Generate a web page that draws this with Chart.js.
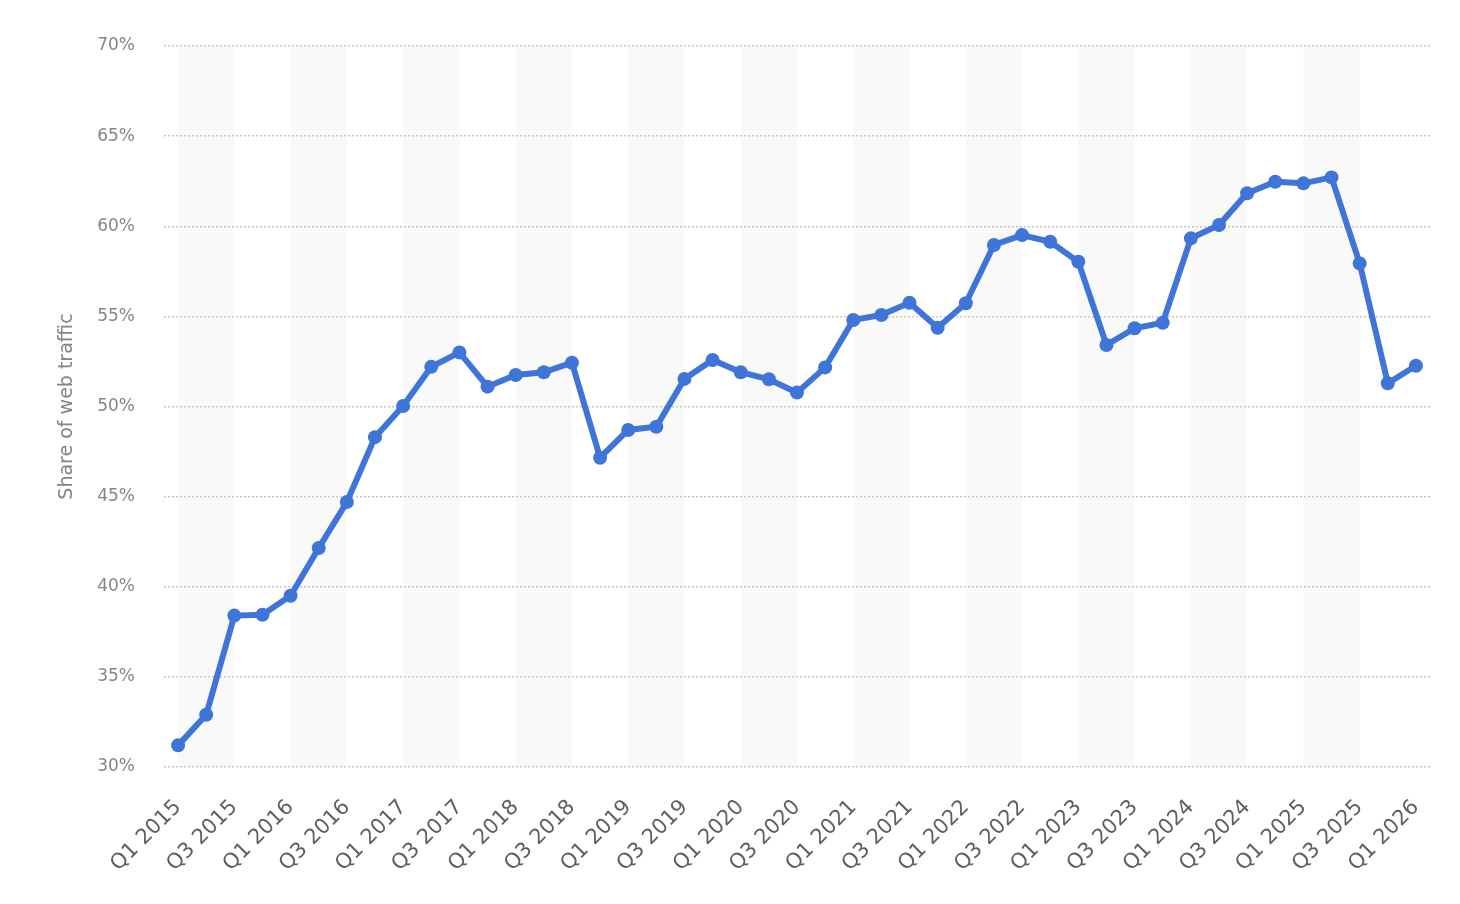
<!DOCTYPE html>
<html>
<head>
<meta charset="utf-8">
<script src="https://cdn.jsdelivr.net/npm/chart.js@4"></script>
<style>
  html, body { margin: 0; padding: 0; background: #fff; }
  #wrap { width: 1460px; height: 904px; }
</style>
</head>
<body>
<div id="wrap"><canvas id="chart"></canvas></div>
<script>
var quarters = [
  "Q1 2015","Q2 2015","Q3 2015","Q4 2015",
  "Q1 2016","Q2 2016","Q3 2016","Q4 2016",
  "Q1 2017","Q2 2017","Q3 2017","Q4 2017",
  "Q1 2018","Q2 2018","Q3 2018","Q4 2018",
  "Q1 2019","Q2 2019","Q3 2019","Q4 2019",
  "Q1 2020","Q2 2020","Q3 2020","Q4 2020",
  "Q1 2021","Q2 2021","Q3 2021","Q4 2021",
  "Q1 2022","Q2 2022","Q3 2022","Q4 2022",
  "Q1 2023","Q2 2023","Q3 2023","Q4 2023",
  "Q1 2024","Q2 2024","Q3 2024","Q4 2024",
  "Q1 2025","Q2 2025","Q3 2025","Q4 2025",
  "Q1 2026"
];

var shareValues = [
  31.2, 32.9, 38.4, 38.45,
  39.5, 42.15, 44.7, 48.3,
  50.03, 52.2, 53.0, 51.1,
  51.75, 51.9, 52.43, 47.16,
  48.7, 48.88, 51.53, 52.58,
  51.9, 51.51, 50.77, 52.17,
  54.8, 55.08, 55.76, 54.37,
  55.73, 58.96, 59.51, 59.14,
  58.03, 53.41, 54.34, 54.65,
  59.33, 60.07, 61.83, 62.47,
  62.38, 62.71, 57.94, 51.29,
  52.26
];

var yTicks = [30, 35, 40, 45, 50, 55, 60, 65, 70];

var lineColor = "#3f74d9";

// light vertical bands from each Q1 to Q3, drawn under the grid
var bandPlugin = {
  id: "bands",
  beforeDraw: function(chart) {
    var ctx = chart.ctx;
    var x = chart.scales.x;
    var area = chart.chartArea;
    ctx.save();
    ctx.fillStyle = "#f9f9f9";
    for (var i = 0; i + 2 < quarters.length; i += 4) {
      var x0 = x.getPixelForValue(i);
      var x1 = x.getPixelForValue(i + 2);
      ctx.fillRect(x0, area.top, x1 - x0, area.bottom - area.top);
    }
    ctx.restore();
  }
};

var config = {
  type: "line",
  data: {
    labels: quarters,
    datasets: [{
      label: "Share of web traffic",
      data: shareValues,
      borderColor: lineColor,
      backgroundColor: lineColor,
      borderWidth: 6,
      pointRadius: 7,
      pointHoverRadius: 7,
      pointBorderWidth: 0,
      tension: 0
    }]
  },
  options: {
    responsive: true,
    maintainAspectRatio: false,
    animation: false,
    layout: { padding: { left: 50, right: 30, top: 46, bottom: 0 } },
    plugins: {
      legend: { display: false },
      tooltip: { enabled: false }
    },
    scales: {
      x: {
        offset: true,
        grid: { display: false, drawTicks: false },
        border: { display: false },
        afterFit: function(s) {
          s.height = 137;
          s.paddingLeft = 0;
          s.paddingRight = 0;
        },
        ticks: {
          autoSkip: false,
          maxRotation: 45,
          minRotation: 45,
          padding: 28,
          color: "#5f5f5f",
          font: { family: "DejaVu Sans", size: 21 },
          callback: function(v, i) { return i % 2 === 0 ? quarters[i] : ""; }
        }
      },
      y: {
        min: 30,
        max: 70,
        afterFit: function(s) { s.width = 114; },
        afterBuildTicks: function(s) {
          s.ticks = yTicks.map(function(v) { return { value: v }; });
        },
        grid: {
          color: "#c8c8c8",
          lineWidth: 1.5,
          drawTicks: false
        },
        border: { display: false, dash: [2, 2] },
        ticks: {
          padding: 29,
          color: "#858585",
          font: { family: "DejaVu Sans", size: 17 },
          callback: function(v) { return v + "%"; }
        },
        title: {
          display: true,
          text: "Share of web traffic",
          color: "#858585",
          font: { family: "DejaVu Sans", size: 19 },
          padding: { top: 6, bottom: 0 }
        }
      }
    }
  },
  plugins: [bandPlugin]
};

var ctx = document.getElementById("chart");
window.myChart = new Chart(ctx, config);
</script>
</body>
</html>
